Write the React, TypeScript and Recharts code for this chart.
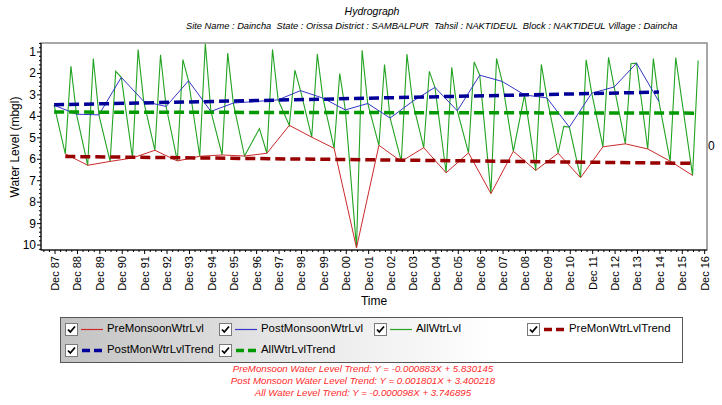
import { ComposedChart, Line, XAxis, YAxis, ReferenceArea } from 'recharts';

// Pre-monsoon (May) water levels, mbgl
const PRE_YEARS = [1988, 1989, 1990, 1991, 1992, 1993, 1994, 1995, 1996, 1997, 1998, 1999, 2000, 2001, 2002, 2003, 2004, 2005, 2006, 2007, 2008, 2009, 2010, 2011, 2012, 2013, 2014, 2015, 2016];
const PRE_LEVEL = [5.75, 6.28, 6.1, 5.94, 5.58, 6.08, 5.86, 5.8, 5.85, 5.72, 4.42, 4.97, 5.49, 10.13, 5.35, 6.1, 5.46, 6.63, 5.7, 7.6, 5.63, 6.52, 5.72, 6.86, 5.42, 5.28, 5.52, 6.09, 6.75];

// Post-monsoon (Nov) water levels
const POST_YEARS = [1987, 1988, 1989, 1990, 1991, 1992, 1993, 1994, 1995, 1997, 1998, 1999, 2000, 2001, 2002, 2003, 2004, 2005, 2006, 2007, 2008, 2009, 2010, 2011, 2012, 2013, 2014];
const POST_LEVEL = [3.48, 3.9, 3.93, 2.18, 3.3, 3.54, 2.34, 3.77, 3.38, 3.23, 2.8, 3.15, 3.7, 3.4, 4.08, 3.3, 2.65, 3.74, 2.08, 2.37, 3.0, 3.14, 4.5, 2.92, 2.63, 1.52, 3.31];

// Monsoon (Aug) readings, only in the all-levels series
const AUG_YEARS = [1988, 1989, 1990, 1991, 1992, 1993, 1994, 1995, 1997, 1998, 1999, 2000, 2001, 2002, 2003, 2004, 2005, 2006, 2007, 2009, 2010, 2011, 2012, 2013, 2014, 2015, 2016];
const AUG_LEVEL = [1.66, 1.3, 1.9, 0.88, 1.13, 1.35, 0.6, 1.05, 0.88, 1.85, 1.1, 2.0, 0.92, 1.58, 1.1, 1.9, 1.71, 1.46, 1.3, 1.58, 4.47, 1.36, 1.25, 1.55, 1.31, 1.26, 1.4];

// Jan reading
const JAN_YEARS = [1997];
const JAN_LEVEL = [4.57];

// trend line end values (start, end)
const PRE_TREND = [5.87, 6.19];
const POST_TREND = [3.46, 2.87];
const ALL_TREND = [3.8, 3.85];

const X_TICK_YEARS = [1987, 1988, 1989, 1990, 1991, 1992, 1993, 1994, 1995, 1996, 1997, 1998, 1999, 2000, 2001, 2002, 2003, 2004, 2005, 2006, 2007, 2008, 2009, 2010, 2011, 2012, 2013, 2014, 2015, 2016];
const X_TICK_LABELS = ['Dec 87', 'Dec 88', 'Dec 89', 'Dec 90', 'Dec 91', 'Dec 92', 'Dec 93', 'Dec 94', 'Dec 95', 'Dec 96', 'Dec 97', 'Dec 98', 'Dec 99', 'Dec 00', 'Dec 01', 'Dec 02', 'Dec 03', 'Dec 04', 'Dec 05', 'Dec 06', 'Dec 07', 'Dec 08', 'Dec 09', 'Dec 10', 'Dec 11', 'Dec 12', 'Dec 13', 'Dec 14', 'Dec 15', 'Dec 16'];
const Y_TICKS = [1, 2, 3, 4, 5, 6, 7, 8, 9, 10];

const X_DOMAIN: [number, number] = [1987.29, 2017.02];
const Y_DOMAIN: [number, number] = [0.58, 10.23];

const COLORS = {
  pre: '#cc2a2a',
  post: '#3535c8',
  all: '#22a322',
  preTrend: '#990000',
  postTrend: '#000099',
  allTrend: '#009900',
};

const t = (year: number, month: number) => year + (month - 0.5) / 12;
const decTick = (year: number) => year + 11 / 12;

const preData = PRE_YEARS.map((y, i) => ({ t: t(y, 5), v: PRE_LEVEL[i] }));
const postData = POST_YEARS.map((y, i) => ({ t: t(y, 11), v: POST_LEVEL[i] }));
const allData = [
  ...preData,
  ...postData,
  ...AUG_YEARS.map((y, i) => ({ t: t(y, 8), v: AUG_LEVEL[i] })),
  ...JAN_YEARS.map((y, i) => ({ t: t(y, 1), v: JAN_LEVEL[i] })),
].sort((a, b) => a.t - b.t);

const preTrendData = [
  { t: preData[0].t, v: PRE_TREND[0] },
  { t: preData[preData.length - 1].t, v: PRE_TREND[1] },
];
const postTrendData = [
  { t: postData[0].t, v: POST_TREND[0] },
  { t: postData[postData.length - 1].t, v: POST_TREND[1] },
];
const allTrendData = [
  { t: allData[0].t, v: ALL_TREND[0] },
  { t: allData[allData.length - 1].t, v: ALL_TREND[1] },
];

// major + quarterly minor ticks on x, 0.2 minor ticks on y
const majorX = X_TICK_YEARS.map(decTick);
const xTicks: number[] = [];
majorX.forEach((m, i) => {
  xTicks.push(m);
  if (i < majorX.length - 1) [0.25, 0.5, 0.75].forEach((q) => xTicks.push(m + q));
});
[-0.5, -0.25].forEach((q) => xTicks.push(majorX[0] + q));

const yTicks: number[] = [];
for (let k = 3; k <= 51; k++) yTicks.push(Math.round(k * 20) / 100);

const XTick = (props: any) => {
  const { x, y, payload } = props;
  const idx = majorX.findIndex((m) => Math.abs(m - payload.value) < 1e-6);
  if (idx < 0) return <line x1={x} x2={x} y1={y} y2={y + 2} stroke="#000" />;
  return (
    <g>
      <line x1={x} x2={x} y1={y} y2={y + 4} stroke="#000" />
      <text
        x={x}
        y={y + 6}
        transform={`rotate(-90 ${x} ${y + 6})`}
        textAnchor="end"
        dominantBaseline="central"
        fontSize={11}
        fill="#000"
      >
        {X_TICK_LABELS[idx]}
      </text>
    </g>
  );
};

const YTick = (props: any) => {
  const { x, y, payload } = props;
  const major = Y_TICKS.includes(payload.value);
  if (!major) return <line x1={x} x2={x - 2} y1={y} y2={y} stroke="#000" />;
  return (
    <g>
      <line x1={x} x2={x - 4} y1={y} y2={y} stroke="#000" />
      <text x={x - 5} y={y} textAnchor="end" dominantBaseline="central" fontSize={12} fill="#000">
        {payload.value}
      </text>
    </g>
  );
};

const LEGEND_ITEMS = [
  { label: 'PreMonsoonWtrLvl', color: COLORS.pre, dashed: false, left: 65, top: 323 },
  { label: 'PostMonsoonWtrLvl', color: COLORS.post, dashed: false, left: 219, top: 323 },
  { label: 'AllWtrLvl', color: COLORS.all, dashed: false, left: 374, top: 323 },
  { label: 'PreMonWtrLvlTrend', color: COLORS.preTrend, dashed: true, left: 527, top: 323 },
  { label: 'PostMonWtrLvlTrend', color: COLORS.postTrend, dashed: true, left: 65, top: 344 },
  { label: 'AllWtrLvlTrend', color: COLORS.allTrend, dashed: true, left: 219, top: 344 },
];

const EQUATIONS = [
  'PreMonsoon Water Level Trend: Y = -0.000883X + 5.830145',
  'Post Monsoon Water Level Trend: Y = 0.001801X + 3.400218',
  'All Water Level Trend: Y = -0.000098X + 3.746895',
];

const CheckBox = () => (
  <svg width={13} height={13} style={{ position: 'absolute', left: 0, top: 0 }}>
    <rect x={0.5} y={0.5} width={12} height={12} fill="#fff" stroke="#7a7a7a" />
    <path d="M3 6.5 L5.3 9 L10 3.5" fill="none" stroke="#000" strokeWidth={1.8} />
  </svg>
);

const LegendItem = ({ item }: { item: (typeof LEGEND_ITEMS)[number] }) => (
  <div style={{ position: 'absolute', left: item.left, top: item.top, height: 13 }}>
    <CheckBox />
    <svg width={24} height={13} style={{ position: 'absolute', left: 16, top: 0 }}>
      {item.dashed ? (
        <line x1={1} x2={21} y1={6.5} y2={6.5} stroke={item.color} strokeWidth={3.5} strokeDasharray="8 4" />
      ) : (
        <line x1={0} x2={22} y1={6.5} y2={6.5} stroke={item.color} strokeWidth={1.2} />
      )}
    </svg>
    <span style={{ position: 'absolute', left: 42, top: -1, fontSize: 11.4, whiteSpace: 'nowrap', color: '#000' }}>
      {item.label}
    </span>
  </div>
);

export default function App() {
  return (
    <div
      style={{
        position: 'fixed',
        left: 0,
        top: 0,
        width: 722,
        height: 405,
        background: '#fff',
        overflow: 'hidden',
        fontFamily: '"Liberation Sans", Arial, sans-serif',
      }}
    >
      <div style={{ position: 'absolute', left: 0, width: 744, top: 5, textAlign: 'center', fontSize: 10.5, fontStyle: 'italic' }}>
        Hydrograph
      </div>
      <div style={{ position: 'absolute', left: 186, top: 21, fontSize: 9.3, fontStyle: 'italic', whiteSpace: 'pre' }}>
        {'Site Name : Daincha  State : Orissa District : SAMBALPUR  Tahsil : NAKTIDEUL  Block : NAKTIDEUL Village : Daincha'}
      </div>

      <div style={{ position: 'absolute', left: 0, top: 0 }}>
        <ComposedChart width={722} height={310} margin={{ top: 43, right: 15, bottom: 0, left: 0 }}>
          <XAxis
            dataKey="t"
            type="number"
            domain={X_DOMAIN}
            allowDataOverflow
            ticks={xTicks}
            interval={0}
            tick={<XTick />}
            tickLine={false}
            tickSize={0}
            tickMargin={0}
            height={60}
            stroke="#000"
          />
          <YAxis
            type="number"
            domain={Y_DOMAIN}
            allowDataOverflow
            reversed
            ticks={yTicks}
            interval={0}
            tick={<YTick />}
            tickLine={false}
            tickSize={0}
            tickMargin={0}
            width={41}
            stroke="#000"
          />
          <ReferenceArea
            x1={X_DOMAIN[0]}
            x2={X_DOMAIN[1]}
            y1={Y_DOMAIN[0]}
            y2={Y_DOMAIN[1]}
            fill="none"
            stroke="#8c8c8c"
            strokeWidth={1.5}
          />
          <Line data={allData} dataKey="v" type="linear" stroke={COLORS.all} strokeWidth={1.1} dot={false} isAnimationActive={false} />
          <Line data={preData} dataKey="v" type="linear" stroke={COLORS.pre} strokeWidth={1} dot={false} isAnimationActive={false} />
          <Line data={postData} dataKey="v" type="linear" stroke={COLORS.post} strokeWidth={1} dot={false} isAnimationActive={false} />
          <Line data={preTrendData} dataKey="v" type="linear" stroke={COLORS.preTrend} strokeWidth={3.5} strokeDasharray="10 5" dot={false} isAnimationActive={false} />
          <Line data={postTrendData} dataKey="v" type="linear" stroke={COLORS.postTrend} strokeWidth={3.5} strokeDasharray="10 5" dot={false} isAnimationActive={false} />
          <Line data={allTrendData} dataKey="v" type="linear" stroke={COLORS.allTrend} strokeWidth={3.5} strokeDasharray="10 5" dot={false} isAnimationActive={false} />
        </ComposedChart>
      </div>

      <div
        style={{
          position: 'absolute',
          left: 15,
          top: 147,
          fontSize: 12,
          transform: 'translate(-50%, -50%) rotate(-90deg)',
          whiteSpace: 'nowrap',
        }}
      >
        Water Level (mbgl)
      </div>
      <div style={{ position: 'absolute', left: 708, top: 139, fontSize: 12 }}>0</div>
      <div style={{ position: 'absolute', left: 374, top: 294, fontSize: 12, transform: 'translateX(-50%)' }}>Time</div>

      <div
        style={{
          position: 'absolute',
          left: 60,
          top: 317,
          width: 621,
          height: 44,
          border: '1px solid #555',
          background: 'linear-gradient(90deg, #c2c2c2 0%, #e6e6e6 35%, #ffffff 70%)',
        }}
      />
      {LEGEND_ITEMS.map((item) => (
        <LegendItem key={item.label} item={item} />
      ))}

      {EQUATIONS.map((eq, i) => (
        <div
          key={eq}
          style={{
            position: 'absolute',
            left: 0,
            width: 726,
            top: 363 + i * 12,
            textAlign: 'center',
            fontSize: 9.7,
            fontStyle: 'italic',
            color: '#ff2a2a',
          }}
        >
          {eq}
        </div>
      ))}
    </div>
  );
}
